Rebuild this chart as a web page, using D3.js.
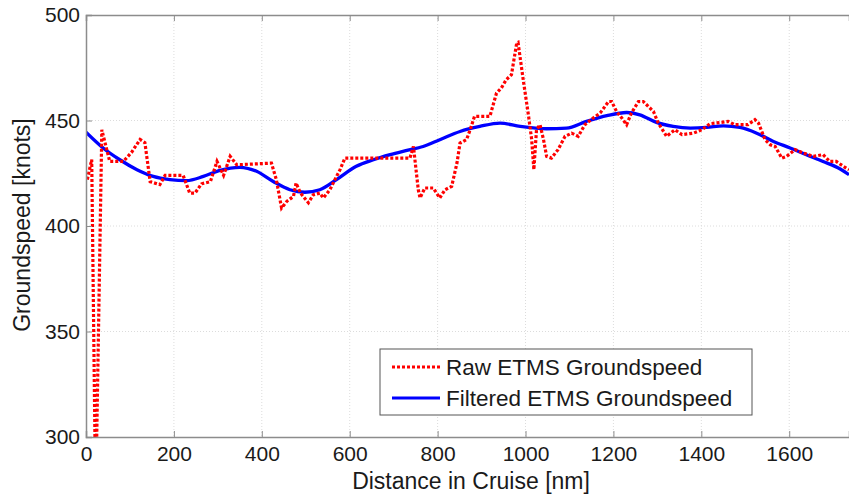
<!DOCTYPE html>
<html><head><meta charset="utf-8">
<script src="https://cdn.jsdelivr.net/npm/d3@7"></script>
<style>
html,body{margin:0;padding:0;background:#fff;}
svg{display:block;font-family:"Liberation Sans",Arial,Helvetica,sans-serif;}
</style></head>
<body><svg id="c" width="849" height="495"></svg>
<script>
const xTicks = [0,200,400,600,800,1000,1200,1400,1600];
const yTicks = [300,350,400,450,500];
const seriesNames = ["Raw ETMS Groundspeed","Filtered ETMS Groundspeed"];
const rawX = [3,13,22,36,54,85,104,123,134,146,168,180,221,236,248,263,283,298,313,328,343,422,433,445,457,472,478,488,506,517,532,540,555,570,578,589,737,745,756,760,771,790,805,817,832,844,851,866,874,884,919,934,945,956,968,980,983,995,1007,1014,1019,1025,1033,1041,1048,1059,1074,1090,1105,1120,1135,1154,1170,1189,1196,1207,1219,1230,1241,1257,1268,1291,1302,1321,1340,1356,1382,1401,1420,1446,1461,1476,1506,1522,1530,1545,1557,1568,1583,1594,1613,1632,1655,1677,1692,1707,1723,1736];
const rawY = [422,431.5,270,445.6,430.6,430.6,435,441,439.5,421,419.6,424,424,415.6,415.6,420,421,430.6,424,433,429,429.8,422,408.5,411.7,414,420.4,415.6,411,414.8,415.6,413.3,417.2,423.5,426.7,432.2,432.2,437.7,417.2,413.3,418,418,413.3,417.2,418.8,429.8,439.3,441,445.6,452,452,463,465.4,469.3,471.7,486.7,487,469,452,441,426.7,445.6,448,440.9,433,432.2,436.2,442.5,444,442.5,448,451.2,453.6,459,459,454.3,451.2,448,453.6,459,459,454.3,448.8,442.5,445.6,443.3,444,445.6,448.5,449.1,449.6,448,448,450.4,448.8,440.9,438.5,437.7,432.2,433,436.2,434.6,433,433.8,430.6,430.6,428.3,426.7];
const filtX = [0,39,77,116,153,191,229,267,305,350,388,426,464,498,532,570,615,654,692,730,767,805,851,896,942,988,1048,1093,1139,1185,1230,1260,1298,1336,1375,1412,1450,1488,1526,1564,1602,1639,1677,1716,1736];
const filtY = [444.5,437,431.4,426.7,423.5,422,421.5,423.5,426.4,427.8,425.9,421.1,417.2,416,417.2,422,428.3,431.4,433.8,435.8,437.7,440.9,444.8,447.2,448.8,447.2,446.1,446.4,449.6,452.3,453.8,452.7,449.1,447.2,446.4,446.7,447.5,446.7,444,440.1,437,433.8,430.6,427,424.3];

const svg = d3.select("#c");
const L = 86, R = 849, T = 15, B = 437;
const x = d3.scaleLinear().domain([0,1736]).range([L,R]);
const y = d3.scaleLinear().domain([300,500]).range([B,T]);

// grid
const g = svg.append("g");
g.selectAll(".gx").data(xTicks.slice(1)).join("line")
  .attr("x1",d=>x(d)).attr("x2",d=>x(d)).attr("y1",T).attr("y2",B)
  .attr("stroke","#dcdcdc").attr("stroke-width",1).attr("stroke-dasharray","1,2");
g.selectAll(".gy").data(yTicks.slice(1,-1)).join("line")
  .attr("x1",L).attr("x2",R).attr("y1",d=>y(d)).attr("y2",d=>y(d))
  .attr("stroke","#dcdcdc").attr("stroke-width",1).attr("stroke-dasharray","1,2");

// clip
svg.append("clipPath").attr("id","clip").append("rect")
  .attr("x",L).attr("y",T).attr("width",R-L).attr("height",B-T);

const lineRaw = d3.line().x((d,i)=>x(rawX[i])).y(d=>y(d));
const lineF = d3.line().x((d,i)=>x(filtX[i])).y(d=>y(d)).curve(d3.curveMonotoneX);

svg.append("path").datum(filtY).attr("d",lineF).attr("clip-path","url(#clip)")
  .attr("fill","none").attr("stroke","#0000ff").attr("stroke-width",3.3);
svg.append("path").datum(rawY).attr("d",lineRaw).attr("clip-path","url(#clip)")
  .attr("fill","none").attr("stroke","#ff0000").attr("stroke-width",3.2)
  .attr("stroke-dasharray","3,2");

// axes (MATLAB style, ticks inward)
const axB = d3.axisBottom(x).tickValues(xTicks).tickSize(-6).tickPadding(9).tickFormat(d3.format("d"));
const axL = d3.axisLeft(y).tickValues(yTicks).tickSize(-6).tickPadding(6).tickFormat(d3.format("d"));
const axT = d3.axisTop(x).tickValues(xTicks).tickSize(-6).tickFormat("");
const gb = svg.append("g").attr("transform",`translate(0,${B})`).call(axB);
const gl = svg.append("g").attr("transform",`translate(${L},0)`).call(axL);
const gt = svg.append("g").attr("transform",`translate(0,${T})`).call(axT);
[gb,gl,gt].forEach(a=>{
  a.select(".domain").attr("stroke","#8c8c8c").attr("stroke-width",1.5);
  a.selectAll(".tick line").attr("stroke","#8c8c8c").attr("stroke-width",1);
  a.selectAll("text").attr("fill","#1a1a1a").style("font-size","21px")
    .style("font-family","'Liberation Sans',Arial,sans-serif");
});

// axis labels
svg.append("text").attr("x",471).attr("y",489).attr("text-anchor","middle")
  .attr("fill","#1a1a1a").style("font-size","23px").text("Distance in Cruise [nm]");
svg.append("text").attr("transform","translate(30,225) rotate(-90)").attr("text-anchor","middle")
  .attr("fill","#1a1a1a").style("font-size","23px").text("Groundspeed [knots]");

// legend
const lg = svg.append("g");
lg.append("rect").attr("x",380).attr("y",349).attr("width",372).attr("height",66)
  .attr("fill","#fff").attr("stroke","#555").attr("stroke-width",1);
const rows = [{y:367,c:"#ff0000",dash:"3,2"},{y:398,c:"#0000ff",dash:null}];
rows.forEach((r,i)=>{
  lg.append("line").attr("x1",392).attr("x2",440).attr("y1",r.y).attr("y2",r.y)
    .attr("stroke",r.c).attr("stroke-width",3).attr("stroke-dasharray",r.dash);
  lg.append("text").attr("x",446).attr("y",r.y+8).attr("fill","#1a1a1a")
    .style("font-size","22.5px").text(seriesNames[i]);
});
</script></body></html>
